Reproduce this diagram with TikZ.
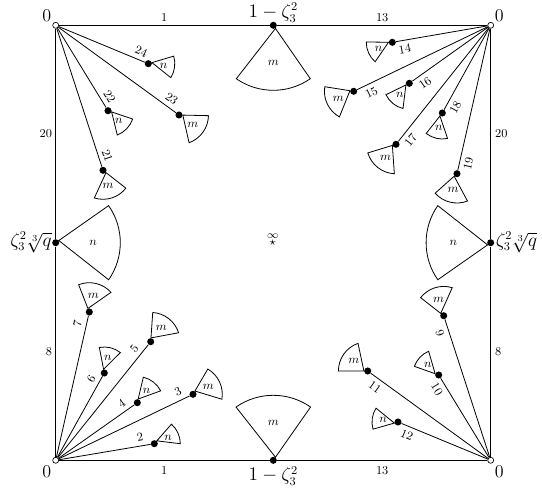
\documentclass[tikz,border=0pt]{standalone}
\usepackage{amsmath}
\usepackage{tikz}
\usetikzlibrary{arrows.meta, positioning, calc}
\tikzset{
    corner/.style={
        circle,
        draw=black,
        fill=white,
        line width=0.5pt,
        minimum size=4.5pt,
        inner sep=0pt
    },
    puncture/.style={
        circle,
        fill=black,
        minimum size=5.3pt,
        inner sep=0pt
    },
    lbl/.style={font=\fontsize{9}{10}\selectfont, inner sep=1pt},
    vertexlbl/.style={font=\fontsize{13.5}{15}\selectfont, inner sep=0pt},
    side/.style={line width=0.6pt}
}
% one sector at a named point: node, start angle, end angle, radius, letter
\newcommand{\sector}[5]{
    \draw[side] (#1) -- ++(#2:#4) arc (#2:#3:#4) -- cycle;
    \path (#1) -- ++({(#2+#3)/2}:{0.58*#4}) node[lbl] {$#5$};
}
\begin{document}
\begin{tikzpicture}[x=0.75pt, y=-0.75pt]
    \useasboundingbox (0,0) rectangle (542,489);
    % the square: four corners and the midpoints of its sides
    \node[corner] (tl) at (55.7,25.3) {};
    \node[corner] (tr) at (490.7,25.3) {};
    \node[corner] (bl) at (55.7,460.3) {};
    \node[corner] (br) at (490.7,460.3) {};
    \node[puncture] (top) at (273.3,25.3) {};
    \node[puncture] (bot) at (273.3,460.3) {};
    \node[puncture] (lft) at (55.7,242.7) {};
    \node[puncture] (rgt) at (490.7,242.7) {};
    % punctures along the spokes
    \node[puncture] (p2) at (154.3,443.7) {};
    \node[puncture] (p3) at (193,394.3) {};
    \node[puncture] (p4) at (137.3,402.7) {};
    \node[puncture] (p5) at (150.7,341.7) {};
    \node[puncture] (p6) at (104.3,373) {};
    \node[puncture] (p7) at (89.3,312) {};
    \node[puncture] (p9) at (443.7,315.7) {};
    \node[puncture] (p10) at (438.7,375) {};
    \node[puncture] (p11) at (367.7,371) {};
    \node[puncture] (p12) at (398,422) {};
    \node[puncture] (p14) at (392.3,42.3) {};
    \node[puncture] (p15) at (353.7,91.3) {};
    \node[puncture] (p16) at (409.3,83.3) {};
    \node[puncture] (p17) at (396,144.3) {};
    \node[puncture] (p18) at (442.3,113) {};
    \node[puncture] (p19) at (457,173.7) {};
    \node[puncture] (p21) at (103,170.3) {};
    \node[puncture] (p22) at (108,110.7) {};
    \node[puncture] (p23) at (179,115) {};
    \node[puncture] (p24) at (148.3,63.7) {};

    \path[side]
        (tl)  edge node[lbl, above=1.5pt] {1} (top)
        (top) edge node[lbl, above=1.5pt] {13} (tr)
        (bl)  edge node[lbl, below=3pt] {1} (bot)
        (bot) edge node[lbl, below=3pt] {13} (br)
        (tl)  edge node[lbl, left=1.5pt] {20} (lft)
        (tr)  edge node[lbl, right=2pt] {20} (rgt)
        (lft) edge node[lbl, left=1.5pt] {8} (bl)
        (rgt) edge node[lbl, right=2pt] {8} (br)
        (bl)  edge node[lbl, above=2.2pt, sloped, pos=0.9] {2} (p2)
        (bl)  edge node[lbl, above=2.2pt, sloped, pos=0.94] {3} (p3)
        (bl)  edge node[lbl, above=2.2pt, sloped, pos=0.9] {4} (p4)
        (bl)  edge node[lbl, above=2.2pt, sloped, pos=0.92] {5} (p5)
        (bl)  edge node[lbl, above=2.2pt, sloped, pos=0.92] {6} (p6)
        (bl)  edge node[lbl, above=2.2pt, sloped, pos=0.93] {7} (p7)
        (br)  edge node[lbl, below=2.2pt, sloped, pos=0.92] {9} (p9)
        (br)  edge node[lbl, below=2.2pt, sloped, pos=0.92] {10} (p10)
        (br)  edge node[lbl, below=2.2pt, sloped, pos=0.92] {11} (p11)
        (br)  edge node[lbl, below=2.2pt, sloped, pos=0.9] {12} (p12)
        (tr)  edge node[lbl, below=2.2pt, sloped, pos=0.92] {14} (p14)
        (tr)  edge node[lbl, below=2.2pt, sloped, pos=0.92] {15} (p15)
        (tr)  edge node[lbl, below=2.2pt, sloped, pos=0.9] {16} (p16)
        (tr)  edge node[lbl, below=2.2pt, sloped, pos=0.94] {17} (p17)
        (tr)  edge node[lbl, below=2.2pt, sloped, pos=0.92] {18} (p18)
        (tr)  edge node[lbl, below=2.2pt, sloped, pos=0.94] {19} (p19)
        (tl)  edge node[lbl, above=2.2pt, sloped, pos=0.94] {21} (p21)
        (tl)  edge node[lbl, above=2.2pt, sloped, pos=0.92] {22} (p22)
        (tl)  edge node[lbl, above=2.2pt, sloped, pos=0.92] {23} (p23)
        (tl)  edge node[lbl, above=2.2pt, sloped, pos=0.92] {24} (p24);

    % angles are measured with y pointing down, as the picture's y axis is flipped
    \sector{top}{55.3}{124.7}{65}{m}
    \sector{bot}{-55}{-125}{65}{m}
    \sector{lft}{-35}{35}{64.6}{n}
    \sector{rgt}{145}{215}{64.6}{n}
    \sector{p2}{-48.7}{0}{26}{n}
    \sector{p3}{-59.6}{9.7}{29.3}{m}
    \sector{p4}{-76.7}{-26.9}{26.2}{n}
    \sector{p5}{-86}{-17.8}{29.3}{m}
    \sector{p6}{-101}{-51.8}{26}{n}
    \sector{p7}{-111.3}{-42.2}{29.3}{m}
    \sector{p9}{-142}{-73}{29.3}{m}
    \sector{p10}{-160.4}{-112.9}{25.8}{n}
    \sector{p11}{-180}{-109.3}{29.3}{m}
    \sector{p12}{164}{212.2}{26}{n}
    \sector{p14}{180.7}{131.4}{26}{n}
    \sector{p15}{189}{119.2}{29.3}{m}
    \sector{p16}{154}{104}{26}{n}
    \sector{p17}{163}{93.2}{29.5}{m}
    \sector{p18}{128.2}{78.4}{26}{n}
    \sector{p19}{138.3}{69}{29.3}{m}
    \sector{p21}{38}{107.4}{29}{m}
    \sector{p22}{18.7}{69}{26}{n}
    \sector{p23}{1.3}{70}{29.5}{m}
    \sector{p24}{-16.6}{31.8}{26.5}{n}

    \node[vertexlbl] (ztl) at (46.7,15.7) {0};
    \node[vertexlbl] (ztr) at (499.3,15.7) {0};
    \node[vertexlbl] (zbl) at (46.7,471.7) {0};
    \node[vertexlbl] (zbr) at (499.3,471.7) {0};
    \node[vertexlbl] (ltop) at (273.3,12.5) {$1-\zeta_3^2$};
    \node[vertexlbl] (lbot) at (273.3,476) {$1-\zeta_3^2$};
    \node[vertexlbl] (llft) at (31,242) {$\zeta_3^2\sqrt[3]{q}$};
    \node[vertexlbl] (lrgt) at (516.5,242) {$\zeta_3^2\sqrt[3]{q}$};
    \node[lbl, font=\fontsize{8}{9}\selectfont] (inf) at (272.7,236) {$\infty$};
    \node[lbl] (star) at (272.7,243) {$\star$};
\end{tikzpicture}
\end{document}
